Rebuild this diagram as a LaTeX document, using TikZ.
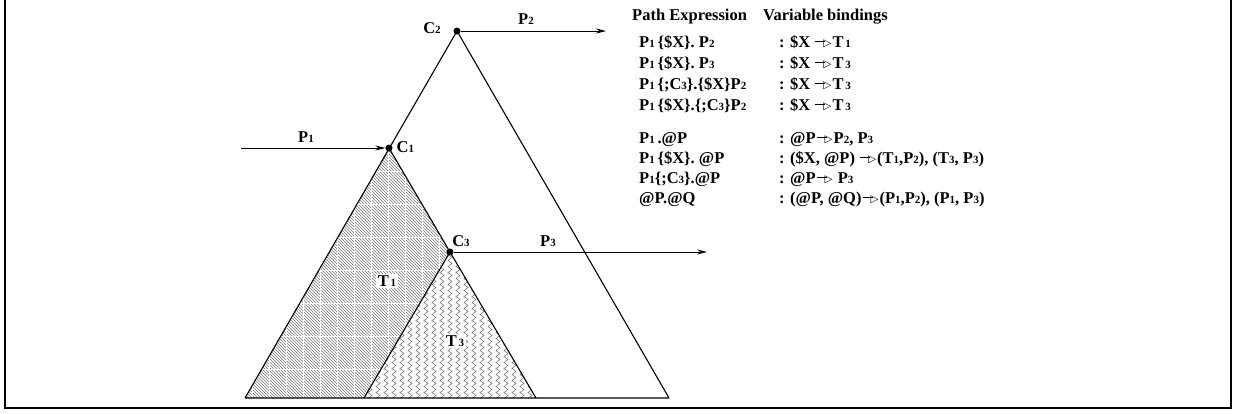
\documentclass[tikz,border=0pt]{standalone}
\usepackage{fontspec}
\setmainfont{Liberation Serif}
\newfontfamily\dejavu{DejaVu Sans}
\usetikzlibrary{arrows.meta,patterns,decorations.pathmorphing}
\newcommand\sbs[1]{\raisebox{-0.5pt}{\fontsize{11}{11}\selectfont #1}}
\newcommand\bto{\kern1pt\rule[5pt]{10pt}{0.9pt}\kern-2pt\raisebox{0.8pt}{\dejavu\fontsize{10.5}{10}\selectfont ▷}\kern1pt}
\tikzset{
  dot/.style={circle,fill=black,inner sep=0pt,minimum size=7pt},
  arr/.style={line width=0.8pt,-{Stealth[length=10pt,width=5pt]}},
  edge/.style={line width=1.1pt,line join=round},
  lbl/.style={font=\fontsize{16.5}{18}\selectfont\bfseries,inner sep=1.5pt},
  txt/.style={font=\fontsize{16.5}{18}\selectfont\bfseries,anchor=base west,inner sep=0pt},
}
\begin{document}
\begin{tikzpicture}[x=1pt,y=-1pt]
\useasboundingbox (0,0) rectangle (1236,413);
% frame
\draw[line width=2pt] (5,0) -- (5,408) -- (1231,408) -- (1231,0);
% corner coordinates
\coordinate (bl) at (245,398);
\coordinate (br) at (669,398);
\coordinate (t1r) at (536,398);
\coordinate (t3l) at (364,398);
% T1 fill
\fill[pattern=north west lines,pattern color=black!55] (389,148) -- (bl) -- (t1r) -- cycle;
\begin{scope}
  \clip (389,148) -- (bl) -- (t1r) -- cycle;
  \foreach \x in {252,269,...,540} \draw[white,line width=0.7pt] (\x,140) -- (\x,400);
  \foreach \y in {171,204,...,400} \draw[white,line width=0.7pt] (240,\y) -- (540,\y);
\end{scope}
% T3 fill
\fill[white] (450,252) -- (t3l) -- (t1r) -- cycle;
\begin{scope}
  \clip (450,252) -- (t3l) -- (t1r) -- cycle;
  \foreach \x in {362,370,...,540}
    \draw[line width=0.45pt,black!65,decorate,decoration={zigzag,segment length=6pt,amplitude=2pt}] (\x,250) -- (\x,402);
\end{scope}
% nodes (dots)
\node[dot] (C2) at (457,31) {};
\node[dot] (C1) at (389,148) {};
\node[dot] (C3) at (450,252) {};
% triangle edges
\draw[edge] (bl) -- (C2.center) -- (br) -- (bl);
\draw[edge] (C1.center) -- (C3.center) -- (t1r);
\draw[edge] (t3l) -- (C3.center);
% arrows
\coordinate (p1s) at (241,148);
\coordinate (p2e) at (606,31);
\coordinate (p3e) at (707,252);
\draw[arr] (p1s) -- (C1);
\draw[arr] (C2) -- (p2e);
\draw[arr] (C3) -- (p3e);
% labels
\node[lbl] (lC2) at (432,28) {C\sbs{2}};
\node[lbl] (lP2) at (526,19) {P\sbs{2}};
\node[lbl] (lP1) at (306,137) {P\sbs{1}};
\node[lbl,anchor=west] (lC1) at (395,147) {C\sbs{1}};
\node[lbl] (lC3) at (461,241) {C\sbs{3}};
\node[lbl] (lP3) at (548,241) {P\sbs{3}};
\node[lbl,fill=white] (lT1) at (387,281) {T\sbs{\,1}};
\node[lbl,fill=white] (lT3) at (455,341) {T\sbs{\,3}};
% table
\node[txt] (h1) at (632,20) {Path Expression};
\node[txt] (h2) at (763,20) {Variable bindings};
\node[txt] (a1) at (639,47) {P\sbs{1}\,\{\$X\}. P\sbs{2}};
\node[txt] (b1) at (779,47) {: \$X \bto T\sbs{\,1}};
\node[txt] (a2) at (639,68) {P\sbs{1}\,\{\$X\}. P\sbs{3}};
\node[txt] (b2) at (779,68) {: \$X \bto T\sbs{\,3}};
\node[txt] (a3) at (639,89) {P\sbs{1}\,\{;C\sbs{3}\}.\{\$X\}P\sbs{2}};
\node[txt] (b3) at (779,89) {: \$X \bto T\sbs{\,3}};
\node[txt] (a4) at (639,110) {P\sbs{1}\,\{\$X\}.\{;C\sbs{3}\}P\sbs{2}};
\node[txt] (b4) at (779,110) {: \$X \bto T\sbs{\,3}};
\node[txt] (a5) at (639,143) {P\sbs{1}\,.@P};
\node[txt] (b5) at (779,143) {: @P\bto P\sbs{2}, P\sbs{3}};
\node[txt] (a6) at (639,163) {P\sbs{1}\,\{\$X\}. @P};
\node[txt] (b6) at (779,163) {: (\$X, @P) \bto(T\sbs{1},P\sbs{2}), (T\sbs{3}, P\sbs{3})};
\node[txt] (a7) at (639,183) {P\sbs{1}\{;C\sbs{3}\}.@P};
\node[txt] (b7) at (779,183) {: @P\bto\ P\sbs{3}};
\node[txt] (a8) at (639,203) {@P.@Q};
\node[txt] (b8) at (779,203) {: (@P, @Q)\bto(P\sbs{1},P\sbs{2}), (P\sbs{1}, P\sbs{3})};
\end{tikzpicture}
\end{document}
